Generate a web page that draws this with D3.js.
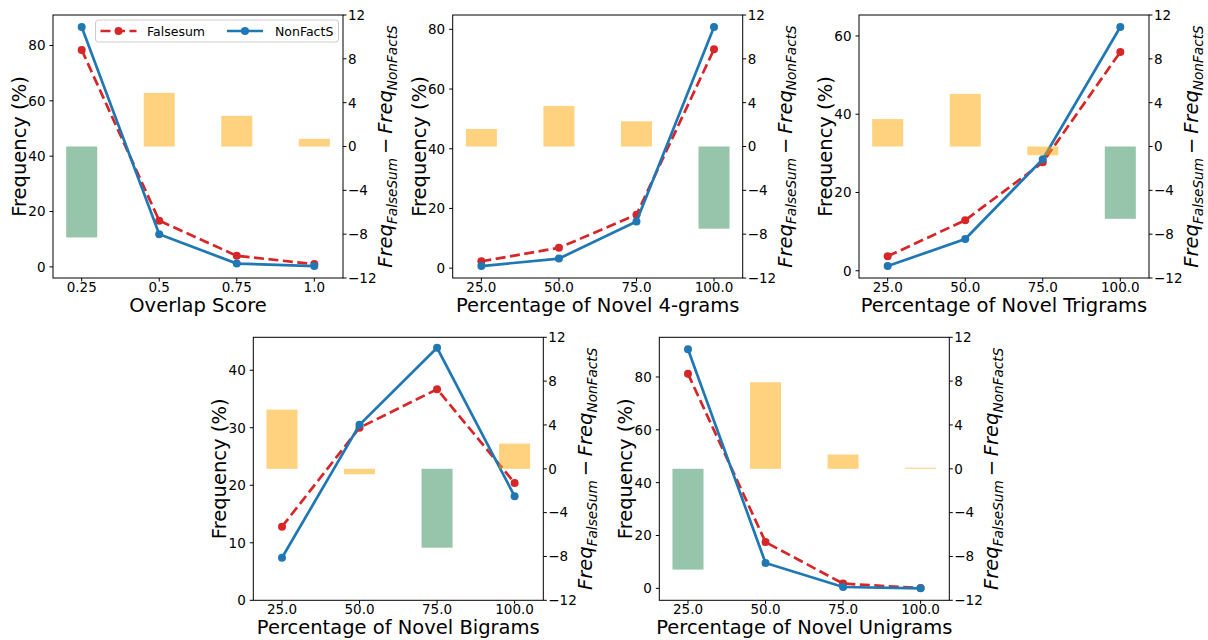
<!DOCTYPE html>
<html><head><meta charset="utf-8">
<script src="https://cdn.jsdelivr.net/npm/d3@7"></script>
<style>
body{margin:0;background:#fff}
svg{display:block}
text{font-family:"DejaVu Sans",sans-serif;fill:#000}
</style>
</head><body>
<svg id="chart" width="1208" height="640"></svg>
<script>
// ---------------- data ----------------
const overlapBins = [0.25, 0.5, 0.75, 1.0];
const overlapBinLabels = ["0.25", "0.5", "0.75", "1.0"];
const novelBins = [25, 50, 75, 100];
const novelBinLabels = ["25.0", "50.0", "75.0", "100.0"];

const seriesNames = ["Falsesum", "NonFactS"];

const falsesumOverlap = [78.4, 16.7, 4.0, 1.0];
const nonfactsOverlap = [86.7, 11.8, 1.2, 0.3];
const diffOverlap = [-8.3, 4.9, 2.8, 0.7];

const falsesum4grams = [2.3, 6.8, 17.9, 73.3];
const nonfacts4grams = [0.7, 3.2, 15.6, 80.8];
const diff4grams = [1.6, 3.7, 2.3, -7.5];

const falsesumTrigrams = [3.7, 12.9, 27.7, 55.9];
const nonfactsTrigrams = [1.2, 8.1, 28.5, 62.3];
const diffTrigrams = [2.5, 4.8, -0.8, -6.6];

const falsesumBigrams = [12.8, 30.0, 36.7, 20.4];
const nonfactsBigrams = [7.4, 30.5, 43.9, 18.1];
const diffBigrams = [5.4, -0.5, -7.2, 2.3];

const falsesumUnigrams = [81.2, 17.5, 1.8, 0.1];
const nonfactsUnigrams = [90.5, 9.6, 0.5, 0.0];
const diffUnigrams = [-9.2, 7.9, 1.3, 0.1];

const xTitles = ["Overlap Score", "Percentage of Novel 4-grams", "Percentage of Novel Trigrams",
                 "Percentage of Novel Bigrams", "Percentage of Novel Unigrams"];
const freqTicks80 = [0, 20, 40, 60, 80];
const freqTicks60 = [0, 20, 40, 60];
const freqTicks40 = [0, 10, 20, 30, 40];
const diffTicks = [-12, -8, -4, 0, 4, 8, 12];
const diffDomain = [-12, 12];
const freqFloor = [null, null, null, 0, null];

// ---------------- layout / style ----------------
const W = 290, H = 263;
const origins = [[53, 15], [452.7, 15], [859, 15], [253.3, 337.3], [659.3, 337.3]];
const RED = "#d62728", BLUE = "#1f77b4";
const POS = "orange", NEG = "seagreen";
const NEG_THRESHOLD = -2;
const TICK_FS = 13.5, LABEL_FS = 19.5, LEG_FS = 12.5;

const panels = [
  {bins: overlapBins, labels: overlapBinLabels, fs: falsesumOverlap, nf: nonfactsOverlap, diff: diffOverlap, yt: freqTicks80},
  {bins: novelBins, labels: novelBinLabels, fs: falsesum4grams, nf: nonfacts4grams, diff: diff4grams, yt: freqTicks80},
  {bins: novelBins, labels: novelBinLabels, fs: falsesumTrigrams, nf: nonfactsTrigrams, diff: diffTrigrams, yt: freqTicks60},
  {bins: novelBins, labels: novelBinLabels, fs: falsesumBigrams, nf: nonfactsBigrams, diff: diffBigrams, yt: freqTicks40},
  {bins: novelBins, labels: novelBinLabels, fs: falsesumUnigrams, nf: nonfactsUnigrams, diff: diffUnigrams, yt: freqTicks80}
];

const svg = d3.select("#chart");
const fmt = d => d < 0 ? "\u2212" + Math.abs(d) : String(d);

panels.forEach((p, i) => {
  const [ox, oy] = origins[i];
  const g = svg.append("g").attr("transform", `translate(${ox},${oy})`);

  const step = p.bins[1] - p.bins[0];
  const barW = 0.4 * step;
  const x0 = p.bins[0] - barW / 2, x1 = p.bins[p.bins.length - 1] + barW / 2;
  const xm = 0.05 * (x1 - x0);
  const x = d3.scaleLinear().domain([x0 - xm, x1 + xm]).range([0, W]);

  const all = p.fs.concat(p.nf);
  const lo = d3.min(all), hi = d3.max(all), ym = 0.05 * (hi - lo);
  const y = d3.scaleLinear().domain([freqFloor[i] !== null ? freqFloor[i] : lo - ym, hi + ym]).range([H, 0]);
  const y2 = d3.scaleLinear().domain(diffDomain).range([H, 0]);

  // lines (left axis)
  const line = d3.line().x((d, j) => x(p.bins[j])).y(d => y(d));
  [[p.fs, RED, "10,4.5"], [p.nf, BLUE, null]].forEach(([vals, col, dash]) => {
    g.append("path").datum(vals).attr("d", line).attr("fill", "none")
      .attr("stroke", col).attr("stroke-width", 2.7).attr("stroke-dasharray", dash);
    g.selectAll(null).data(vals).enter().append("circle")
      .attr("cx", (d, j) => x(p.bins[j])).attr("cy", d => y(d)).attr("r", 4).attr("fill", col);
  });

  // bars (right axis, drawn on top)
  g.selectAll(null).data(p.diff).enter().append("rect")
    .attr("x", (d, j) => x(p.bins[j] - barW / 2))
    .attr("width", (d, j) => x(p.bins[j] + barW / 2) - x(p.bins[j] - barW / 2))
    .attr("y", d => y2(Math.max(0, d)))
    .attr("height", d => Math.abs(y2(d) - y2(0)))
    .attr("fill", d => d < NEG_THRESHOLD ? NEG : POS).attr("fill-opacity", 0.5);

  // frame
  g.append("rect").attr("width", W).attr("height", H).attr("fill", "none")
    .attr("stroke", "#000").attr("stroke-width", 1);

  // x ticks
  p.bins.forEach((b, j) => {
    g.append("line").attr("x1", x(b)).attr("x2", x(b)).attr("y1", H).attr("y2", H + 3.5).attr("stroke", "#000");
    g.append("text").attr("x", x(b)).attr("y", H + 14).attr("text-anchor", "middle")
      .attr("font-size", TICK_FS).text(p.labels[j]);
  });
  // left ticks
  p.yt.forEach(t => {
    g.append("line").attr("x1", -3.5).attr("x2", 0).attr("y1", y(t)).attr("y2", y(t)).attr("stroke", "#000");
    g.append("text").attr("x", -7.5).attr("y", y(t)).attr("dy", "0.36em").attr("text-anchor", "end")
      .attr("font-size", TICK_FS).text(fmt(t));
  });
  // right ticks
  diffTicks.forEach(t => {
    g.append("line").attr("x1", W).attr("x2", W + 3.5).attr("y1", y2(t)).attr("y2", y2(t)).attr("stroke", "#000");
    g.append("text").attr("x", W + 5).attr("y", y2(t)).attr("dy", "0.36em").attr("text-anchor", "start")
      .attr("font-size", TICK_FS).text(fmt(t));
  });

  // axis titles
  g.append("text").attr("x", W / 2).attr("y", H + 34).attr("text-anchor", "middle")
    .attr("font-size", LABEL_FS).text(xTitles[i]);
  g.append("text").attr("transform", `translate(-27,${H / 2}) rotate(-90)`).attr("text-anchor", "middle")
    .attr("font-size", LABEL_FS).text("Frequency (%)");
  const rt = g.append("text").attr("transform", `translate(${W + 49},${H / 2}) rotate(-90)`)
    .attr("text-anchor", "middle").attr("font-size", LABEL_FS);
  rt.append("tspan").attr("font-style", "italic").text("Freq");
  rt.append("tspan").attr("font-style", "italic").attr("font-size", LABEL_FS * 0.7).attr("dy", 4.5).text("FalseSum");
  rt.append("tspan").attr("dy", -4.5).text("\u2009\u2212\u2009");
  rt.append("tspan").attr("font-style", "italic").text("Freq");
  rt.append("tspan").attr("font-style", "italic").attr("font-size", LABEL_FS * 0.7).attr("dy", 4.5).text("NonFactS");

  // legend (first panel only)
  if (i === 0) {
    const lg = svg.append("g").attr("transform", `translate(95.5,20)`);
    lg.append("rect").attr("width", 243).attr("height", 22).attr("rx", 3)
      .attr("fill", "#fff").attr("fill-opacity", 0.8).attr("stroke", "#ccc");
    [[RED, "10,4.5", 5, 51.5], [BLUE, null, 131.5, 179.5]].forEach(([col, dash, lx, tx], k) => {
      lg.append("line").attr("x1", lx).attr("x2", lx + 36).attr("y1", 11).attr("y2", 11)
        .attr("stroke", col).attr("stroke-width", 2.7).attr("stroke-dasharray", dash);
      lg.append("circle").attr("cx", lx + 18).attr("cy", 11).attr("r", 4).attr("fill", col);
      lg.append("text").attr("x", tx).attr("y", 11).attr("dy", "0.36em")
        .attr("font-size", LEG_FS).text(seriesNames[k]);
    });
  }
});
</script>
</body></html>
